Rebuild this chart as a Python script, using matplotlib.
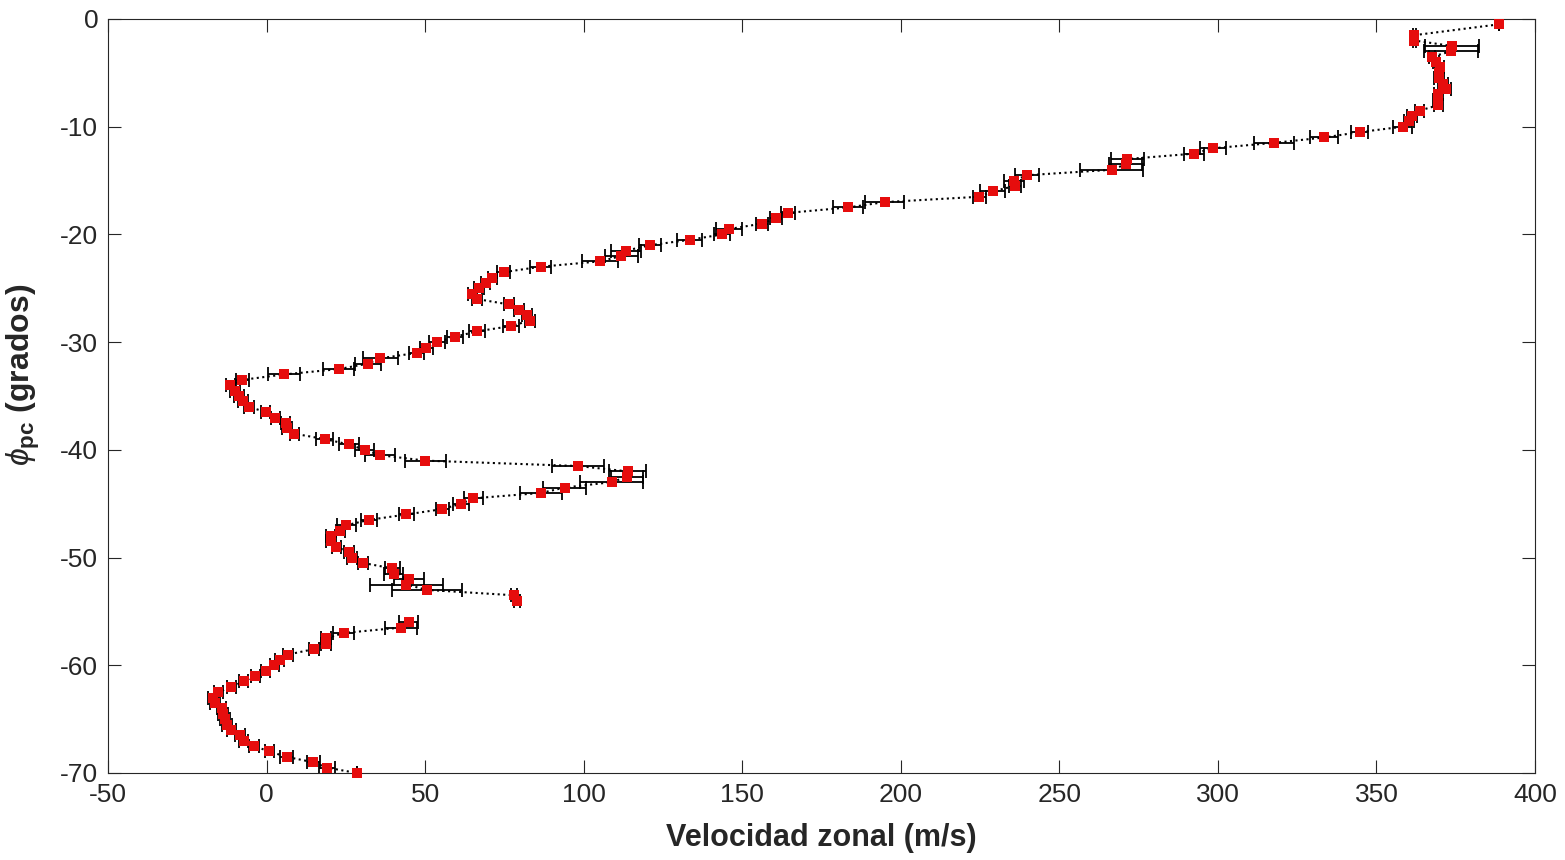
import numpy as np
import matplotlib
matplotlib.use('Agg')
import matplotlib.pyplot as plt

plt.rcParams['font.family'] = ['Liberation Sans', 'DejaVu Sans']
plt.rcParams['mathtext.fontset'] = 'custom'
plt.rcParams['mathtext.rm'] = 'Liberation Sans'
plt.rcParams['mathtext.it'] = 'Liberation Sans:italic'
plt.rcParams['mathtext.bf'] = 'Liberation Sans:bold'
plt.rcParams['axes.unicode_minus'] = False

# latitud planetocentrica (grados)
lat = [-0.5, -1.5, -2.0, -2.5, -3.0, -3.5, -4.0, -4.5, -5.0, -5.5,
       -6.0, -6.5, -7.0, -7.5, -8.0, -8.5, -9.0, -9.5, -10.0, -10.5,
       -11.0, -11.5, -12.0, -12.5, -13.0, -13.5, -14.0, -14.5, -15.0, -15.5,
       -16.0, -16.5, -17.0, -17.5, -18.0, -18.5, -19.0, -19.5, -20.0, -20.5,
       -21.0, -21.5, -22.0, -22.5, -23.0, -23.5, -24.0, -24.5, -25.0, -25.5,
       -26.0, -26.5, -27.0, -27.5, -28.0, -28.5, -29.0, -29.5, -30.0, -30.5,
       -31.0, -31.5, -32.0, -32.5, -33.0, -33.5, -34.0, -34.5, -35.0, -35.5,
       -36.0, -36.5, -37.0, -37.5, -38.0, -38.5, -39.0, -39.5, -40.0, -40.5,
       -41.0, -41.5, -42.0, -42.5, -43.0, -43.5, -44.0, -44.5, -45.0, -45.5,
       -46.0, -46.5, -47.0, -47.5, -48.0, -48.5, -49.0, -49.5, -50.0, -50.5,
       -51.0, -51.5, -52.0, -52.5, -53.0, -53.5, -54.0, -54.5, -55.0, -55.5,
       -56.0, -56.5, -57.0, -57.5, -58.0, -58.5, -59.0, -59.5, -60.0, -60.5,
       -61.0, -61.5, -62.0, -62.5, -63.0, -63.5, -64.0, -64.5, -65.0, -65.5,
       -66.0, -66.5, -67.0, -67.5, -68.0, -68.5, -69.0, -69.5, -70.0]

# velocidad zonal (m/s), nan = sin medida
u = [388.5, 362.0, 362.0, 373.7, 373.5, 367.6, 368.8, 369.9, 369.7, 369.8,
     371.0, 372.0, 369.5, 369.3, 369.5, 363.6, 361.2, 360.2, 358.3, 344.7,
     333.5, 317.7, 298.5, 292.4, 271.4, 270.9, 266.5, 239.9, 235.7, 236.0,
     229.0, 224.8, 194.9, 183.3, 164.4, 160.7, 156.2, 145.8, 143.7, 133.4,
     120.9, 113.4, 111.9, 105.1, 86.4, 74.8, 71.2, 69.1, 67.0, 64.9,
     66.4, 76.4, 79.6, 82.2, 83.0, 77.2, 66.4, 59.4, 53.8, 50.4,
     47.3, 35.9, 31.9, 22.8, 5.5, -7.6, -11.4, -10.0, -8.7, -7.5,
     -5.5, -0.3, 2.8, 6.0, 6.5, 8.8, 18.3, 26.0, 30.9, 35.9,
     50.1, 98.2, 113.9, 113.7, 108.8, 94.0, 86.6, 65.2, 61.4, 55.4,
     44.1, 32.3, 25.1, 23.3, 20.2, 20.4, 22.0, 26.0, 27.0, 30.4,
     39.6, 40.1, 44.9, 44.1, 50.5, 78.0, 79.0, np.nan, np.nan, np.nan,
     44.9, 42.3, 24.4, 18.8, 18.8, 14.9, 6.8, 4.1, 2.5, -0.3,
     -3.5, -7.2, -11.1, -15.2, -16.9, -16.3, -14.2, -13.8, -13.1, -12.4,
     -11.1, -8.4, -7.2, -4.0, 0.9, 6.3, 14.7, 19.1, 28.4]

# error en u (m/s)
err = [0.0, 0.5, 0.5, 8.5, 8.5, 1.0, 1.0, 1.5, 1.0, 1.5,
       1.5, 1.5, 1.5, 1.5, 1.5, 1.5, 1.5, 1.5, 3.0, 2.7,
       4.3, 6.2, 4.2, 3.2, 5.2, 5.2, 10.0, 3.8, 3.2, 2.0,
       4.0, 2.0, 6.2, 4.7, 2.2, 2.0, 2.0, 4.2, 2.5, 4.0,
       3.4, 4.8, 5.2, 5.7, 3.3, 2.0, 1.5, 1.5, 1.5, 1.5,
       1.5, 1.5, 1.5, 1.5, 1.5, 2.5, 2.6, 2.5, 2.5, 2.0,
       2.4, 5.6, 4.1, 4.9, 5.0, 2.0, 1.5, 1.5, 1.5, 1.5,
       1.5, 1.5, 1.5, 1.5, 1.5, 1.5, 2.8, 3.0, 3.0, 4.7,
       6.5, 8.1, 5.9, 5.0, 9.9, 6.8, 6.6, 3.0, 2.5, 2.1,
       2.3, 2.5, 3.0, 1.5, 1.5, 1.5, 1.5, 1.5, 1.5, 1.5,
       2.4, 3.0, 4.7, 11.4, 11.0, 1.0, 1.0, np.nan, np.nan, np.nan,
       3.0, 5.0, 3.3, 1.5, 1.5, 1.5, 1.5, 1.5, 1.5, 1.5,
       1.5, 1.5, 1.5, 1.5, 1.5, 1.5, 1.5, 1.5, 1.5, 1.5,
       1.5, 1.5, 1.5, 1.5, 1.5, 2.0, 2.0, 2.5, 0.0]

xticks = [-50, 0, 50, 100, 150, 200, 250, 300, 350, 400]
yticks = [-70, -60, -50, -40, -30, -20, -10, 0]

fig = plt.figure(figsize=(15.65, 8.6), dpi=100)
ax = fig.add_axes([108/1565, 87/860, 1427/1565, 754/860])

ax.errorbar(u, lat, xerr=err, fmt=':', color='k', ecolor='k',
            elinewidth=1.3, linewidth=1.5, capsize=5, capthick=1.3, zorder=2)
ax.plot(u, lat, 's', color=(0.9, 0.05, 0.05), markersize=6.5,
        markeredgewidth=0, zorder=3, clip_on=False)

ax.set_xlim(-50, 400)
ax.set_ylim(-70, 0)
ax.set_xticks(xticks)
ax.set_yticks(yticks)

grey = (0.15, 0.15, 0.15)
for s in ax.spines.values():
    s.set_color(grey)
    s.set_linewidth(0.8)
ax.tick_params(direction='in', length=9.5, width=0.8, color=grey,
               labelcolor=grey, labelsize=19, top=True, right=True, pad=7)

ax.set_xlabel('Velocidad zonal (m/s)', fontsize=22, fontweight='bold',
              color=grey, labelpad=12)
ax.set_ylabel(r'$\phi_{\mathbf{pc}}$ (grados)', fontsize=23, fontweight='bold',
              color=grey)
ax.yaxis.set_label_coords(-0.046, 0.528)

fig.savefig('out.png', dpi=100)
